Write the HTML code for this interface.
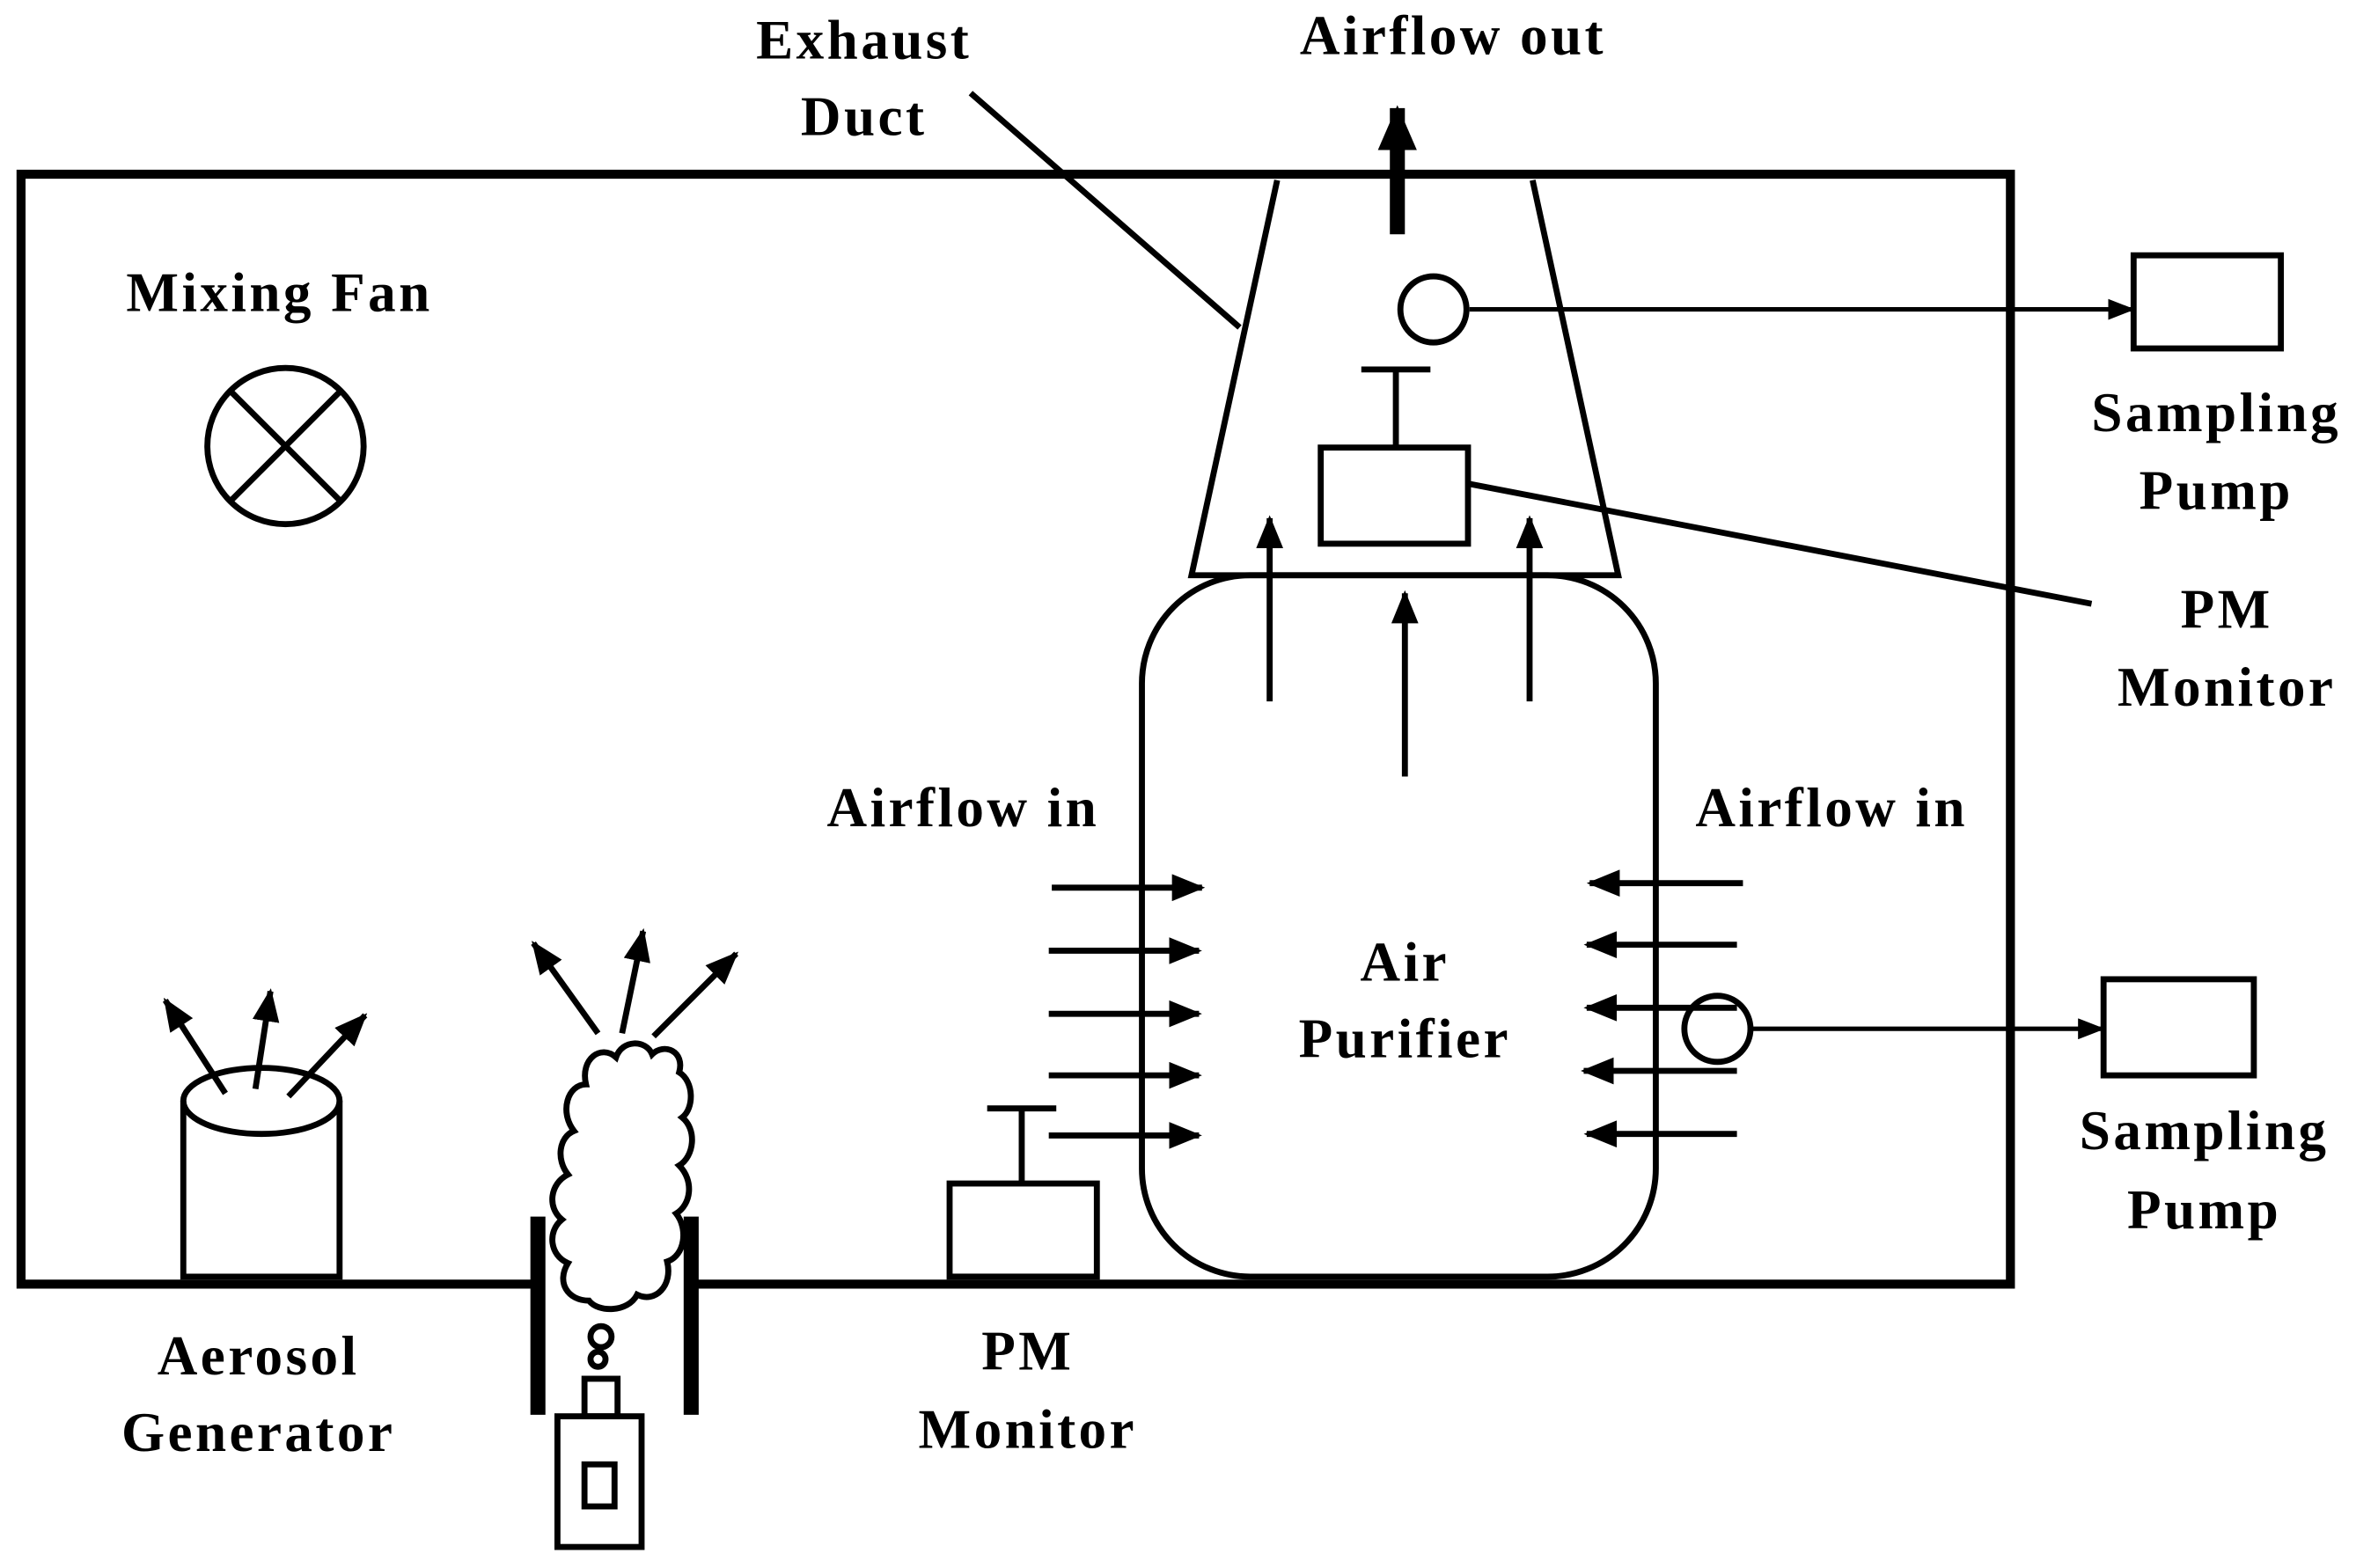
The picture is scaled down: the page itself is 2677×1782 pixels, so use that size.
<!DOCTYPE html>
<html><head><meta charset="utf-8"><style>
html,body{margin:0;padding:0;background:#fff;}
svg{display:block;}
text{font-family:"Liberation Serif",serif;font-weight:bold;font-size:37px;letter-spacing:2px;fill:#000;text-anchor:middle;}
</style></head><body>
<svg width="2677" height="1782" viewBox="0 0 1568 1044" preserveAspectRatio="none" xmlns="http://www.w3.org/2000/svg">
<defs>
<marker id="a" markerWidth="18" markerHeight="14" refX="17" refY="7" orient="auto" markerUnits="userSpaceOnUse"><path d="M0,0 L18,7 L0,14 z" fill="#000"/></marker>
<marker id="b" markerWidth="22" markerHeight="18" refX="20" refY="9" orient="auto" markerUnits="userSpaceOnUse"><path d="M0,0 L22,9 L0,18 z" fill="#000"/></marker>
<marker id="c" markerWidth="30" markerHeight="26" refX="28" refY="13" orient="auto" markerUnits="userSpaceOnUse"><path d="M0,0 L30,13 L0,26 z" fill="#000"/></marker>
</defs>
<g fill="none" stroke="#000" stroke-width="6">
<path d="M360,855 L14,855 L14,116 L1338,116 L1338,855 L458,855"/>
</g>
<g fill="none" stroke="#000" stroke-width="4">
<path d="M850,120 L793,383 L1077,383 L1020,120"/>
<rect x="760" y="383" width="342" height="467" rx="72"/>
<line x1="646" y1="62" x2="825" y2="218"/>
<circle cx="954" cy="206" r="22"/>
<rect x="1420" y="170" width="98" height="62"/>
<rect x="879" y="298" width="98" height="64"/>
<line x1="929" y1="246" x2="929" y2="298"/>
<line x1="906" y1="246" x2="952" y2="246"/>
<line x1="977" y1="322" x2="1392" y2="402"/>
<circle cx="1143" cy="685" r="22"/>
<rect x="1400" y="652" width="100" height="64"/>
<circle cx="190" cy="297" r="52"/>
<line x1="153" y1="260" x2="227" y2="334"/><line x1="227" y1="260" x2="153" y2="334"/>
<path d="M122,733 L122,850 L226,850 L226,733"/>
<ellipse cx="174" cy="733" rx="52" ry="22"/>
<rect x="632" y="788" width="98" height="62"/>
<line x1="680" y1="738" x2="680" y2="788"/>
<line x1="657" y1="738" x2="703" y2="738"/>
<rect x="371" y="943" width="56" height="87"/>
<rect x="389" y="975" width="20" height="28"/>
<rect x="389" y="918" width="22" height="25"/>
<circle cx="400" cy="890" r="7"/><circle cx="398" cy="905" r="5"/>
<path d="M392,866 C378,866 370,854 378,841 C366,836 364,820 374,812 C364,804 366,788 378,782 C370,772 372,757 382,753 C372,740 378,722 390,722 C386,705 400,695 410,704 C414,692 430,692 434,702 C442,694 456,700 452,714 C462,720 462,738 454,744 C464,752 462,770 452,776 C462,786 460,802 450,808 C458,818 456,836 444,840 C448,856 436,868 424,862 C418,874 398,874 392,866 Z" stroke-width="4" fill="#fff"/>
</g>
<g stroke="#000" stroke-width="10"><line x1="358" y1="810" x2="358" y2="942"/><line x1="460" y1="810" x2="460" y2="942"/></g>
<g stroke="#000" stroke-width="3" fill="none">
<line x1="978" y1="206" x2="1420" y2="206" marker-end="url(#a)"/>
<line x1="1165" y1="685" x2="1400" y2="685" marker-end="url(#a)"/>
</g>
<g stroke="#000" stroke-width="4" fill="none">
<line x1="845" y1="467" x2="845" y2="345" marker-end="url(#b)"/>
<line x1="935" y1="517" x2="935" y2="395" marker-end="url(#b)"/>
<line x1="1018" y1="467" x2="1018" y2="345" marker-end="url(#b)"/>
<line x1="700" y1="591" x2="800" y2="591" marker-end="url(#b)"/>
<line x1="698" y1="633" x2="798" y2="633" marker-end="url(#b)"/>
<line x1="698" y1="675" x2="798" y2="675" marker-end="url(#b)"/>
<line x1="698" y1="716" x2="798" y2="716" marker-end="url(#b)"/>
<line x1="698" y1="756" x2="798" y2="756" marker-end="url(#b)"/>
<line x1="1160" y1="588" x2="1058" y2="588" marker-end="url(#b)"/>
<line x1="1156" y1="629" x2="1056" y2="629" marker-end="url(#b)"/>
<line x1="1156" y1="671" x2="1056" y2="671" marker-end="url(#b)"/>
<line x1="1156" y1="713" x2="1054" y2="713" marker-end="url(#b)"/>
<line x1="1156" y1="755" x2="1056" y2="755" marker-end="url(#b)"/>
<line x1="150" y1="728" x2="110" y2="666" marker-end="url(#b)"/>
<line x1="170" y1="725" x2="180" y2="660" marker-end="url(#b)"/>
<line x1="192" y1="730" x2="243" y2="676" marker-end="url(#b)"/>
<line x1="398" y1="688" x2="355" y2="628" marker-end="url(#b)"/>
<line x1="414" y1="688" x2="428" y2="620" marker-end="url(#b)"/>
<line x1="435" y1="690" x2="490" y2="635" marker-end="url(#b)"/>
</g>
<line x1="930" y1="156" x2="930" y2="72" stroke="#000" stroke-width="10" marker-end="url(#c)"/>
<text x="575" y="39">Exhaust</text><text x="575" y="90">Duct</text>
<text x="967" y="36">Airflow out</text>
<text x="186" y="207">Mixing Fan</text>
<text x="1475" y="287">Sampling</text><text x="1475" y="339">Pump</text>
<text x="1482" y="418">PM</text><text x="1482" y="470">Monitor</text>
<text x="641" y="550">Airflow in</text><text x="1219" y="550">Airflow in</text>
<text x="935" y="653">Air</text><text x="935" y="704">Purifier</text>
<text x="1467" y="765">Sampling</text><text x="1467" y="818">Pump</text>
<text x="172" y="915">Aerosol</text><text x="172" y="966">Generator</text>
<text x="684" y="912">PM</text><text x="684" y="964">Monitor</text>
</svg>
</body></html>
